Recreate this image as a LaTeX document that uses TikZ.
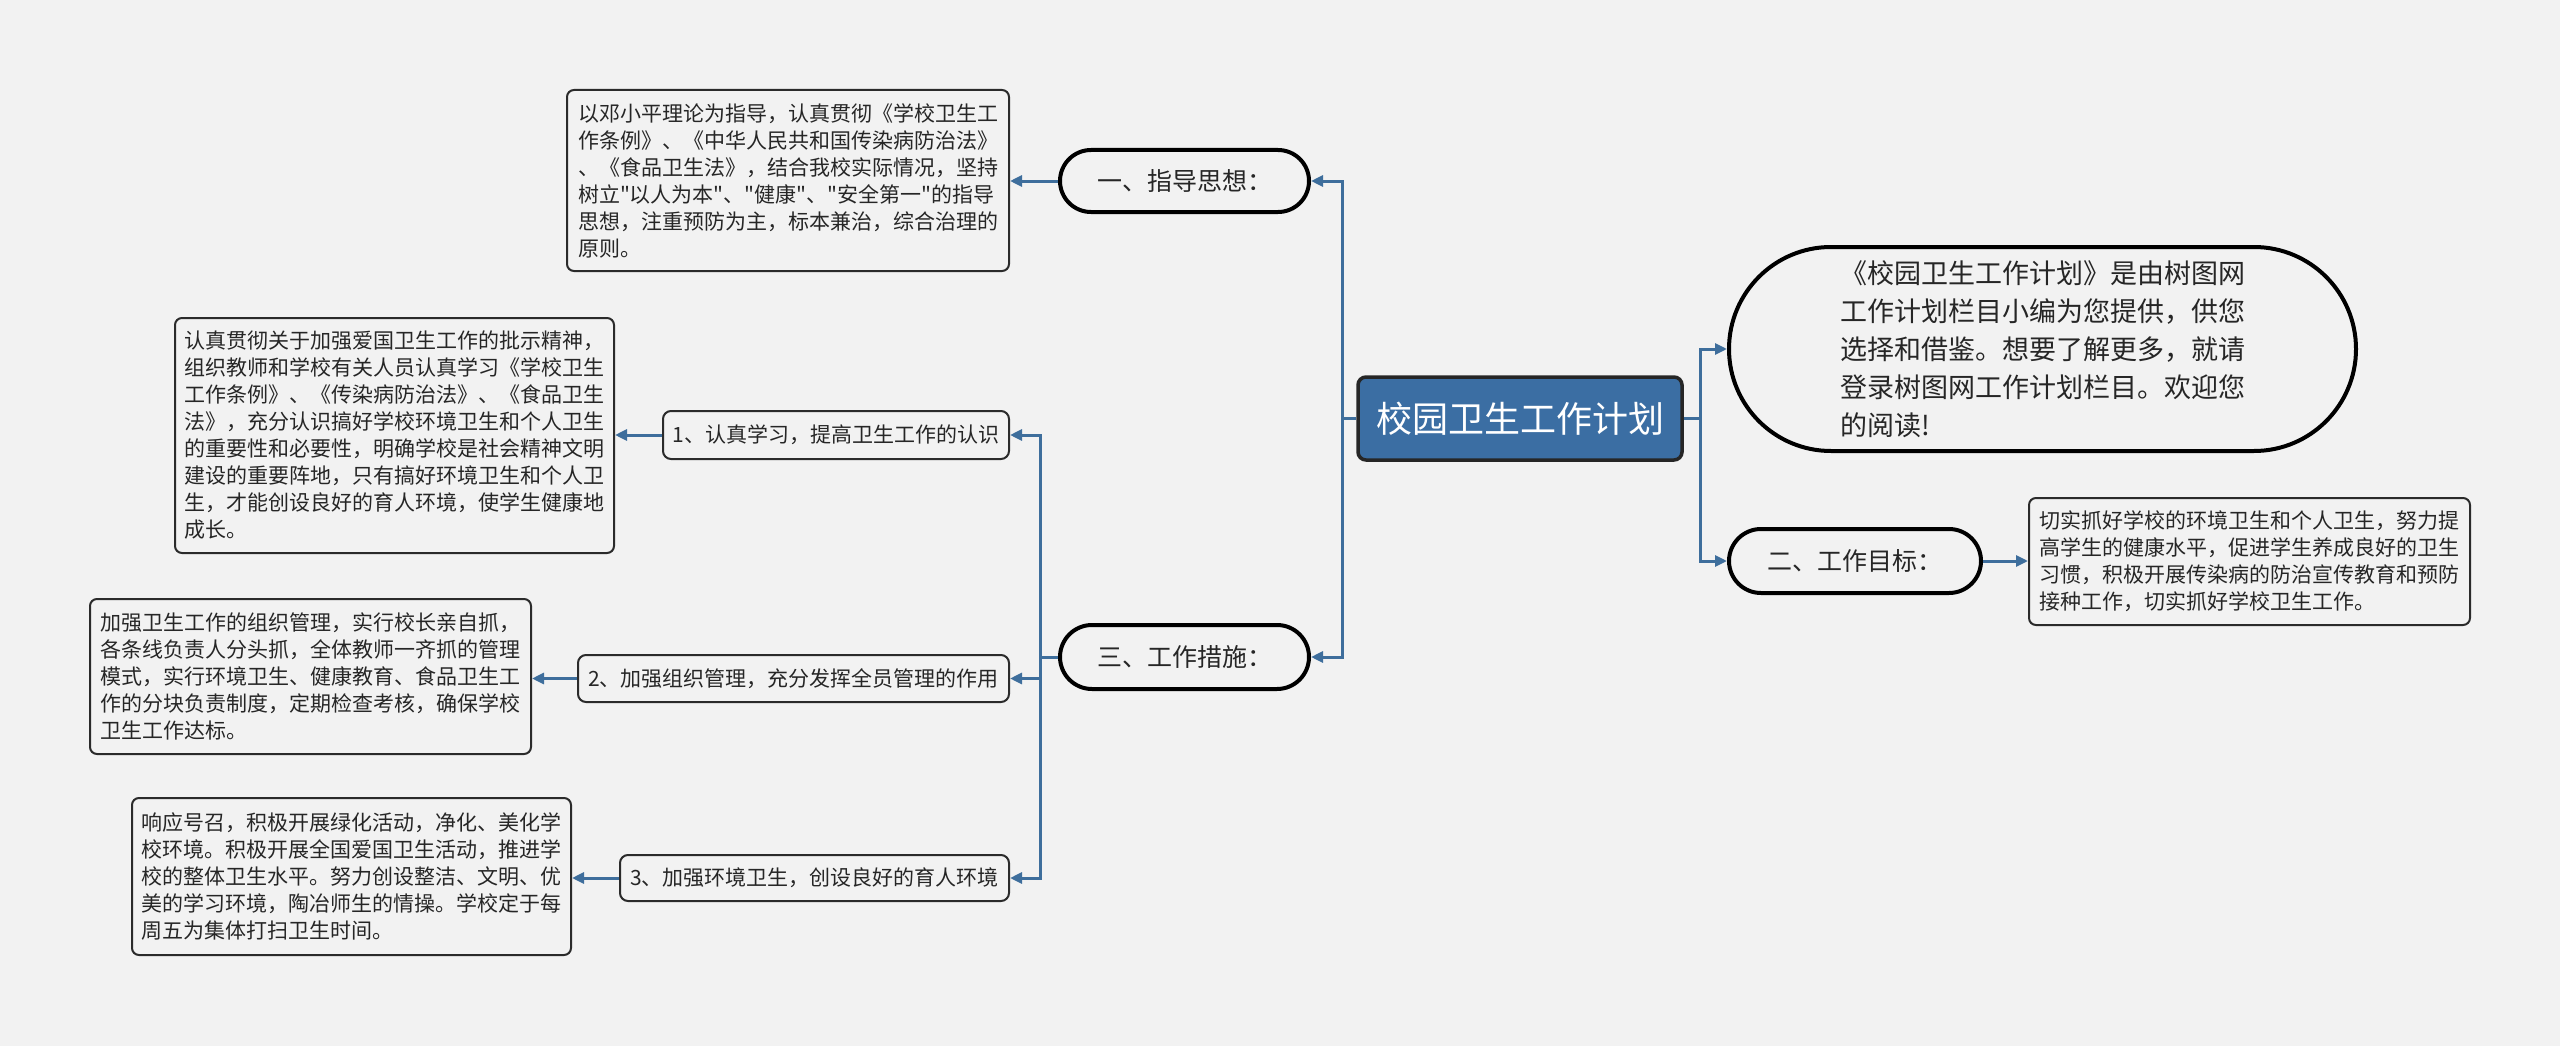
\documentclass[tikz,border=0pt]{standalone}
\usepackage{fontspec}
\newfontfamily\cjk{Noto Sans CJK SC}
\usetikzlibrary{shapes.misc,arrows.meta}
\definecolor{bg}{HTML}{F2F2F2}
\definecolor{linec}{HTML}{3E6E9C}
\definecolor{rootc}{HTML}{3B6EA3}
\definecolor{edgec}{HTML}{2B2B2B}
\definecolor{textc}{HTML}{262626}
\begin{document}
\begin{tikzpicture}[x=1pt,y=-1pt,
  detail/.style={draw=edgec, line width=2pt, fill=bg, rounded corners=7pt, align=left,
    font=\cjk\fontsize{21}{27}\selectfont, inner sep=0pt, text=textc},
  sub/.style={draw=edgec, line width=2pt, fill=bg, rounded corners=8pt, inner sep=0pt,
    font=\cjk\fontsize{21}{27}\selectfont, text=textc},
  pill/.style={rounded rectangle, draw=black, line width=4pt, fill=bg, inner sep=0pt,
    font=\cjk\fontsize{25}{30}\selectfont, text=textc},
  rootbox/.style={draw=black!85, line width=3.5pt, fill=rootc, rounded corners=8pt,
    inner sep=0pt, text=white, font=\cjk\fontsize{36}{40}\selectfont},
  conn/.style={draw=linec, line width=3pt},
  arr/.style={conn, -{Triangle[length=12pt,width=11pt]}}
]
\fill[bg] (0,0) rectangle (2560,1046);
\useasboundingbox (0,0) rectangle (2560,1046);

\node[rootbox, minimum width=324pt, minimum height=83pt] (root) at (1520,418.5) {校园卫生工作计划};

\node[pill, minimum width=249pt, minimum height=62pt] (p1) at (1184.5,181) {一、指导思想：};
\node[pill, minimum width=249pt, minimum height=64pt] (p3) at (1184.5,657) {三、工作措施：};
\node[pill, minimum width=252pt, minimum height=64pt] (p2) at (1855,561) {二、工作目标：};

\node[pill, minimum width=627pt, minimum height=204pt, align=left,
  font=\cjk\fontsize{27}{38}\selectfont] (intro) at (2042.5,349)
 {《校园卫生工作计划》是由树图网\\工作计划栏目小编为您提供，供您\\选择和借鉴。想要了解更多，就请\\登录树图网工作计划栏目。欢迎您\\的阅读!};

\node[detail, minimum width=442pt, minimum height=181pt] (d0) at (788,180.5)
 {以邓小平理论为指导，认真贯彻《学校卫生工\\作条例》、《中华人民共和国传染病防治法》\\、《食品卫生法》，结合我校实际情况，坚持\\树立"以人为本"、"健康"、"安全第一"的指导\\思想，注重预防为主，标本兼治，综合治理的\\原则。};

\node[sub, minimum width=346pt, minimum height=48pt] (s1) at (836,435) {1、认真学习，提高卫生工作的认识};
\node[sub, minimum width=431pt, minimum height=47pt] (s2) at (793.5,678.5) {2、加强组织管理，充分发挥全员管理的作用};
\node[sub, minimum width=389pt, minimum height=46pt] (s3) at (814.5,878) {3、加强环境卫生，创设良好的育人环境};

\node[detail, minimum width=439pt, minimum height=235pt] (d1) at (394.5,435.5)
 {认真贯彻关于加强爱国卫生工作的批示精神，\\组织教师和学校有关人员认真学习《学校卫生\\工作条例》、《传染病防治法》、《食品卫生\\法》，充分认识搞好学校环境卫生和个人卫生\\的重要性和必要性，明确学校是社会精神文明\\建设的重要阵地，只有搞好环境卫生和个人卫\\生，才能创设良好的育人环境，使学生健康地\\成长。};

\node[detail, minimum width=441pt, minimum height=155pt] (d2) at (310.5,676.5)
 {加强卫生工作的组织管理，实行校长亲自抓，\\各条线负责人分头抓，全体教师一齐抓的管理\\模式，实行环境卫生、健康教育、食品卫生工\\作的分块负责制度，定期检查考核，确保学校\\卫生工作达标。};

\node[detail, minimum width=439pt, minimum height=157pt] (d3) at (351.5,876.5)
 {响应号召，积极开展绿化活动，净化、美化学\\校环境。积极开展全国爱国卫生活动，推进学\\校的整体卫生水平。努力创设整洁、文明、优\\美的学习环境，陶冶师生的情操。学校定于每\\周五为集体打扫卫生时间。};

\node[detail, minimum width=441pt, minimum height=127pt] (goal) at (2249.5,561.5)
 {切实抓好学校的环境卫生和个人卫生，努力提\\高学生的健康水平，促进学生养成良好的卫生\\习惯，积极开展传染病的防治宣传教育和预防\\接种工作，切实抓好学校卫生工作。};

% connectors
\coordinate (tL) at (1342,418.5);
\coordinate (tM) at (1040,657);
\coordinate (tR) at (1700,418.5);

\draw[conn] (root.west) -- (tL);
\draw[arr] (tL) |- (p1.east);
\draw[arr] (tL) |- (p3.east);
\draw[arr] (p1.west) -- (d0.east |- p1.west);

\draw[conn] (p3.west) -- (tM);
\draw[arr] (tM) |- (s1.east);
\draw[arr] (tM) |- (s2.east);
\draw[arr] (tM) |- (s3.east);
\draw[arr] (s1.west) -- (d1.east |- s1.west);
\draw[arr] (s2.west) -- (d2.east |- s2.west);
\draw[arr] (s3.west) -- (d3.east |- s3.west);

\draw[conn] (root.east) -- (tR);
\draw[arr] (tR) |- (intro.west);
\draw[arr] (tR) |- (p2.west);
\draw[arr] (p2.east) -- (goal.west |- p2.east);
\end{tikzpicture}
\end{document}
